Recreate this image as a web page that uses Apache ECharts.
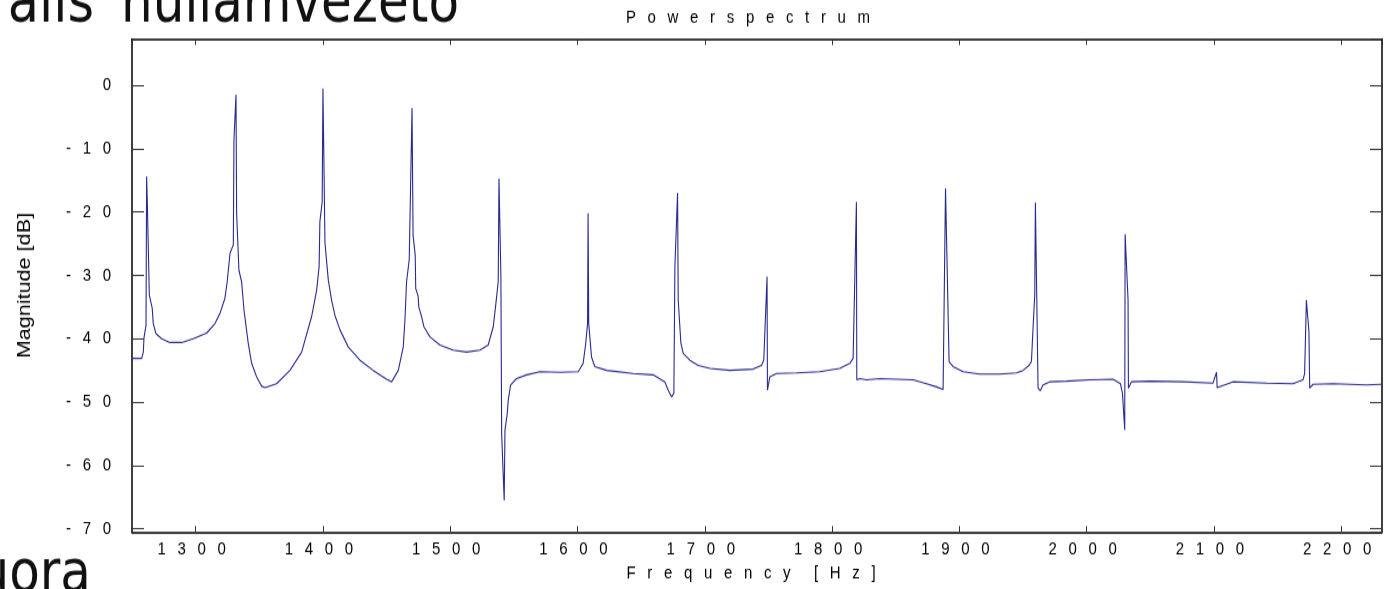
<!DOCTYPE html>
<html>
<head>
<meta charset="utf-8">
<title>Power spectrum</title>
<script src="https://cdn.jsdelivr.net/npm/echarts@6/dist/echarts.min.js"></script>
<style>
  html, body { margin: 0; padding: 0; background: #fff; width: 1388px; height: 589px; overflow: hidden; }
  #frame { width: 1388px; height: 589px; overflow: hidden; position: relative; }
  /* the reference picture is stretched vertically by about 1.2 */
  #main { position: absolute; left: 0; top: 0; width: 1388px; height: 491px; transform: scale(1, 1.2); transform-origin: 0 0; }
</style>
</head>
<body>
<div id="frame"><div id="main"></div></div>
<script>
  // spectrum: frequency [Hz] and magnitude [dB]
  var freqHz = [
    1250.0, 1257.6, 1258.9, 1259.4, 1261.0, 1261.5, 1262.0, 1263.6, 1265.9, 1266.7,
    1268.8, 1273.3, 1279.8, 1289.0, 1298.1, 1308.7, 1315.2, 1319.1, 1323.0, 1324.8,
    1327.0, 1329.6, 1330.1, 1331.7, 1332.2, 1334.0, 1336.1, 1338.0, 1341.3, 1344.0,
    1347.9, 1351.9, 1354.5, 1363.6, 1374.1, 1383.3, 1391.1, 1395.1, 1397.0, 1397.6,
    1399.4, 1400.0, 1401.6, 1404.2, 1406.8, 1409.4, 1413.4, 1419.9, 1429.1, 1439.5,
    1450.0, 1454.0, 1459.2, 1463.1, 1464.4, 1465.7, 1467.8, 1470.0, 1470.8, 1472.5,
    1472.9, 1474.8, 1475.3, 1477.5, 1479.3, 1484.0, 1491.9, 1502.3, 1512.9, 1523.3,
    1529.8, 1533.8, 1535.9, 1537.7, 1538.3, 1539.8, 1540.4, 1542.4, 1543.0, 1544.8,
    1545.6, 1547.4, 1552.1, 1560.0, 1570.4, 1586.1, 1600.5, 1604.4, 1606.3, 1607.9,
    1608.3, 1608.8, 1611.0, 1613.6, 1622.8, 1643.7, 1659.4, 1668.6, 1671.2, 1673.9,
    1675.7, 1676.5, 1678.6, 1679.1, 1681.2, 1683.0, 1688.2, 1694.8, 1704.0, 1719.7,
    1737.9, 1744.5, 1746.3, 1748.9, 1749.2, 1751.1, 1756.3, 1772.0, 1790.3, 1806.0,
    1813.9, 1816.5, 1819.1, 1819.4, 1821.8, 1827.0, 1837.5, 1850.6, 1863.6, 1874.1,
    1882.0, 1887.2, 1889.1, 1891.9, 1895.0, 1902.9, 1916.0, 1931.7, 1944.8, 1950.0,
    1954.7, 1956.6, 1957.9, 1959.2, 1959.7, 1961.8, 1963.6, 1965.7, 1971.0, 1984.1,
    2002.4, 2020.7, 2026.5, 2028.1, 2029.9, 2030.2, 2032.5, 2032.8, 2035.1, 2049.5,
    2075.6, 2099.2, 2102.0, 2102.5, 2114.9, 2141.2, 2162.0, 2169.9, 2171.2, 2172.6,
    2174.6, 2175.2, 2177.8, 2193.5, 2219.7, 2231.5
  ];
  var magDb = [
    -43.1, -43.1, -42.1, -39.9, -37.9, -14.4, -18.1, -33.1, -35.2, -37.6,
    -39.2, -40.0, -40.6, -40.6, -40.0, -39.1, -37.6, -36.0, -33.6, -31.0,
    -26.5, -25.2, -8.6, -1.5, -20.2, -29.2, -31.0, -35.5, -40.7, -43.9,
    -46.0, -47.5, -47.7, -47.1, -45.0, -42.1, -36.5, -32.3, -28.6, -21.5,
    -18.4, -0.5, -24.9, -30.7, -33.9, -36.3, -38.6, -41.3, -43.4, -45.0,
    -46.4, -46.8, -45.0, -41.3, -37.1, -31.0, -27.5, -3.6, -23.7, -26.8,
    -32.1, -33.3, -35.0, -36.5, -38.1, -39.7, -41.0, -41.8, -42.1, -41.8,
    -41.0, -38.1, -34.4, -31.0, -14.7, -30.2, -55.0, -65.5, -54.4, -51.8,
    -49.7, -47.3, -46.3, -45.7, -45.2, -45.3, -45.2, -43.9, -41.0, -37.6,
    -20.2, -37.6, -42.9, -44.4, -45.0, -45.5, -45.7, -46.8, -48.1, -49.2,
    -48.6, -28.6, -17.0, -33.9, -40.7, -42.3, -43.4, -44.2, -44.7, -45.0,
    -44.8, -44.2, -43.4, -30.2, -48.1, -46.0, -45.5, -45.4, -45.2, -44.7,
    -43.9, -43.1, -18.4, -46.5, -46.3, -46.5, -46.3, -46.4, -46.5, -47.1,
    -47.6, -48.0, -16.3, -43.6, -44.4, -45.2, -45.6, -45.6, -45.4, -45.0,
    -44.2, -43.6, -38.1, -33.1, -18.5, -47.8, -48.2, -47.3, -46.8, -46.7,
    -46.5, -46.4, -47.1, -48.6, -54.4, -23.5, -33.9, -47.8, -46.8, -46.7,
    -46.8, -47.0, -45.3, -47.7, -46.8, -47.0, -47.1, -46.5, -45.5, -33.9,
    -38.9, -47.8, -47.2, -47.1, -47.3, -47.2
  ];
  var xTickValues = [1300, 1400, 1500, 1600, 1700, 1800, 1900, 2000, 2100, 2200];
  var yTickValues = [0, -10, -20, -30, -40, -50, -60, -70];
  var xRange = [1250, 2232];
  var yRange = [-70.5, 7.3];

  // the old plot prints every character apart
  var GAP = '\u2002 ';
  function spaced(s) { return String(s).split('').join(GAP); }
  var xTickLabels = xTickValues.map(spaced);
  var yTickLabels = yTickValues.map(spaced);

  var FONT = 'Liberation Sans';
  var points = freqHz.map(function (f, i) { return [f, magDb[i]]; });

  function tickLabel(values, labels) {
    return function (v) {
      var i = values.indexOf(Math.round(v * 10) / 10);
      return i < 0 ? '' : labels[i];
    };
  }

  var boxLine = { show: true, onZero: false, lineStyle: { color: '#000', width: 1.5 } };

  var chart = echarts.init(document.getElementById('main'));
  chart.setOption({
    animation: false,
    backgroundColor: '#fff',
    title: {
      text: spaced('Powerspectrum'),
      left: 748, top: 7, padding: 0,
      textAlign: 'center',
      textStyle: { fontFamily: FONT, fontSize: 15, fontWeight: 'normal', color: '#000' }
    },
    graphic: [
      { type: 'text', x: 94, y: 5,
        style: { text: 'ális', fontFamily: 'DejaVu Sans', fontSize: 51, fill: '#111', align: 'right', verticalAlign: 'middle' } },
      { type: 'text', x: 121, y: 5,
        style: { text: 'hullámvezető', fontFamily: 'DejaVu Sans', fontSize: 50, fill: '#111', align: 'left', verticalAlign: 'middle' } },
      { type: 'text', x: 91, y: 480,
        style: { text: 'uora', fontFamily: 'DejaVu Sans', fontSize: 50, fill: '#111', align: 'right', verticalAlign: 'middle' } }
    ],
    grid: { left: 132, right: 6, top: 32.5, bottom: 47.7, containLabel: false },
    xAxis: [
      {
        type: 'value', position: 'bottom', min: xRange[0], max: xRange[1], splitNumber: 10,
        axisLine: boxLine,
        axisTick: { inside: true, length: 5, lineStyle: { color: '#333' } },
        axisLabel: {
          margin: 7, fontFamily: FONT, fontSize: 15, color: '#000',
          padding: [0, 8, 0, 0],
          showMinLabel: false, showMaxLabel: false,
          formatter: tickLabel(xTickValues, xTickLabels)
        },
        splitLine: { show: false },
        name: spaced('Frequency') + GAP + GAP + spaced('[Hz]'),
        nameLocation: 'middle', nameGap: 27.5,
        nameTextStyle: { fontFamily: FONT, fontSize: 15, color: '#000', padding: [0, 12, 0, 0] }
      },
      {
        type: 'value', position: 'top', min: xRange[0], max: xRange[1], splitNumber: 10,
        axisLine: boxLine,
        axisTick: { inside: true, length: 5, lineStyle: { color: '#333' } },
        axisLabel: { show: false },
        splitLine: { show: false }
      }
    ],
    yAxis: [
      {
        type: 'value', position: 'left', min: yRange[0], max: yRange[1], splitNumber: 8,
        axisLine: boxLine,
        axisTick: { inside: true, length: 12, lineStyle: { color: '#333' } },
        axisLabel: {
          margin: 21, fontFamily: FONT, fontSize: 15, color: '#000',
          showMinLabel: false, showMaxLabel: false,
          formatter: tickLabel(yTickValues, yTickLabels)
        },
        splitLine: { show: false },
        name: 'Magnitude [dB]', nameLocation: 'middle', nameGap: 98, nameRotate: 90,
        nameTextStyle: { fontFamily: FONT, fontSize: 18, color: '#000' }
      },
      {
        type: 'value', position: 'right', min: yRange[0], max: yRange[1], splitNumber: 8,
        axisLine: boxLine,
        axisTick: { inside: true, length: 12, lineStyle: { color: '#333' } },
        axisLabel: { show: false },
        splitLine: { show: false }
      }
    ],
    series: [
      {
        type: 'line',
        xAxisIndex: 0, yAxisIndex: 0,
        data: points,
        showSymbol: false,
        lineStyle: { color: '#2a2a8f', width: 1.1 }
      }
    ]
  });
</script>
</body>
</html>
